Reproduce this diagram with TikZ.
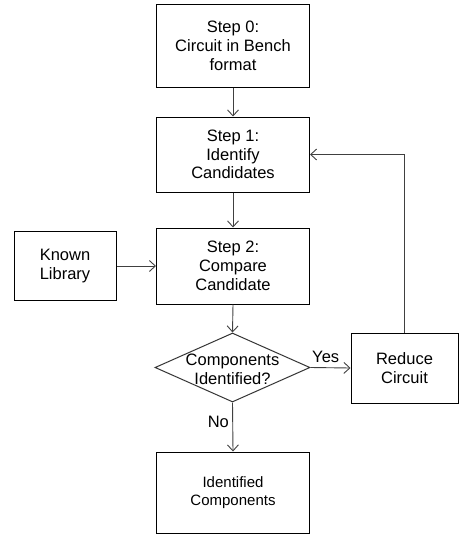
\documentclass[tikz,border=0pt]{standalone}
\usepackage{fontspec}
\setmainfont{Liberation Sans}
\usetikzlibrary{shapes.geometric,arrows.meta}

\begin{document}
\begin{tikzpicture}[
        x=1pt, y=-1pt,
        font=\fontsize{16.5}{18.7}\selectfont,
        stepbox/.style={
            rectangle, draw=black, line width=1pt,
            minimum width=153pt, minimum height=76pt,
            inner sep=0pt, align=center
        },
        decision/.style={
            diamond, draw=black!80, line width=1pt,
            minimum width=155pt, minimum height=69pt,
            inner sep=0pt
        },
        arr/.style={-{Straight Barb[length=6pt,width=11pt]}, line width=0.9pt, draw=black!75}
    ]

    \useasboundingbox (0,0) rectangle (459,535);

    % Main steps down the middle
    \node[stepbox, minimum height=82pt] (s0) at (233, 46) {Step 0:\\Circuit in Bench\\format};
    \node[stepbox, minimum height=75pt] (s1) at (233, 154.5) {Step 1:\\Identify\\Candidates};
    \node[stepbox] (s2) at (233, 266) {Step 2:\\Compare\\Candidate};

    % Library on the left
    \node[stepbox, minimum width=102pt, minimum height=69pt] (lib) at (65, 266) {Known\\Library};

    % Decision
    \node[decision] (dec) at (232.5, 367.5) {};
    \node[align=center] (dectext) at (232.5, 369) {Components\\Identified?};

    % Reduce on the right
    \node[stepbox, minimum width=107pt, minimum height=70pt] (red) at (404.5, 368) {Reduce\\Circuit};

    % Result
    \node[stepbox, minimum height=81pt, font=\fontsize{15}{18}\selectfont] (ident) at (233, 492.5) {Identified\\Components};

    % Arrows
    \draw[arr] (s0.south) -- (s1.north);
    \draw[arr] (s1.south) -- (s2.north);
    \draw[arr] (lib.east) -- (s2.west);
    \draw[arr] (s2.south) -- (dec.north);
    \draw[arr] (dec.east) -- (red.west)
        node[pos=0.38, above=1pt] {Yes};
    \draw[arr] (dec.south) -- (ident.north)
        node[pos=0.4, left=0pt] {No};
    \draw[arr] (red.north) |- (s1.east);

\end{tikzpicture}
\end{document}
